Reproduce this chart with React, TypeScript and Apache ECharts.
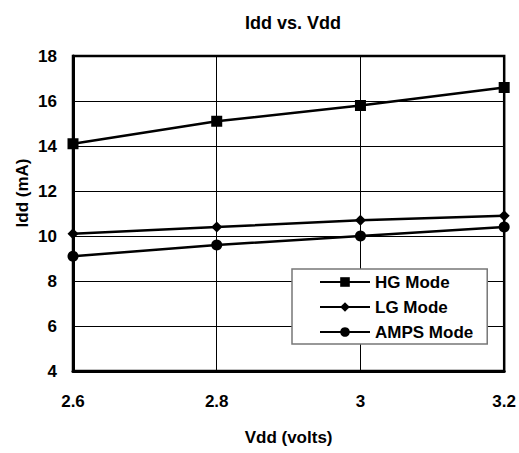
import React, { useEffect, useRef } from "react";
import * as echarts from "echarts";

const vdd = [2.6, 2.8, 3.0, 3.2];
const hgMode = [14.1, 15.1, 15.8, 16.6];
const lgMode = [10.1, 10.4, 10.7, 10.9];
const ampsMode = [9.1, 9.6, 10.0, 10.4];
const seriesNames = ["HG Mode", "LG Mode", "AMPS Mode"];
const yTicks = { min: 4, max: 18, interval: 2 };
const xTicks = { min: 2.6, max: 3.2, interval: 0.2 };

const FONT = "'Liberation Sans Narrow', 'Arial Narrow', 'Liberation Sans', sans-serif";

export default function App() {
  const ref = useRef<HTMLDivElement>(null);
  useEffect(() => {
    if (!ref.current) return;
    const chart = echarts.init(ref.current, undefined, { renderer: "svg" });
    const mk = (name: string, vals: number[], symbol: string, size: number) => ({
      name,
      type: "line",
      data: vals.map((v, i) => [vdd[i], v]),
      symbol,
      symbolSize: size,
      showAllSymbol: true,
      lineStyle: { color: "#000", width: 2.5 },
      itemStyle: { color: "#000" },
      emphasis: { disabled: true },
    });
    chart.setOption({
      animation: false,
      backgroundColor: "#fff",
      textStyle: { fontFamily: FONT, fontWeight: "bold", color: "#000" },
      title: {
        text: "Idd vs. Vdd",
        left: 288,
        top: 9,
        textAlign: "center",
        textStyle: { fontFamily: FONT, fontWeight: "bold", fontSize: 18, color: "#000" },
      },
      graphic: [
        {
          type: "text",
          x: 22,
          y: 193,
          rotation: Math.PI / 2,
          style: {
            text: "Idd (mA)",
            fontFamily: FONT,
            fontWeight: "bold",
            fontSize: 17,
            fill: "#000",
            align: "center",
            verticalAlign: "middle",
          },
        },
      ],
      grid: {
        left: 73,
        right: 13,
        top: 56,
        bottom: 82,
        show: true,
        borderColor: "#000",
        borderWidth: 2.5,
        containLabel: false,
      },
      legend: {
        orient: "vertical",
        left: 292,
        top: 269,
        data: seriesNames,
        backgroundColor: "#fff",
        borderColor: "#777",
        borderWidth: 1.5,
        borderRadius: 0,
        padding: [4, 14, 3, 27],
        itemWidth: 50,
        itemHeight: 12,
        itemGap: 7,
        textStyle: { fontFamily: FONT, fontWeight: "bold", fontSize: 17, color: "#000", lineHeight: 18 },
      },
      xAxis: {
        type: "value",
        min: xTicks.min,
        max: xTicks.max,
        interval: xTicks.interval,
        name: "Vdd (volts)",
        nameLocation: "middle",
        nameGap: 58,
        nameTextStyle: { fontFamily: FONT, fontWeight: "bold", fontSize: 17, color: "#000" },
        axisLine: { show: true, lineStyle: { color: "#000", width: 3 } },
        axisTick: { show: false },
        axisLabel: {
          margin: 22,
          fontFamily: FONT,
          fontWeight: "bold",
          fontSize: 17,
          color: "#000",
          formatter: (v: number) => String(Math.round(v * 10) / 10),
        },
        splitLine: { show: true, lineStyle: { color: "#000", width: 1 } },
      },
      yAxis: {
        type: "value",
        min: yTicks.min,
        max: yTicks.max,
        interval: yTicks.interval,
        axisLine: { show: true, lineStyle: { color: "#000", width: 3 } },
        axisTick: { show: false },
        axisLabel: { margin: 16, fontFamily: FONT, fontWeight: "bold", fontSize: 17, color: "#000" },
        splitLine: { show: true, lineStyle: { color: "#000", width: 1 } },
      },
      series: [
        mk(seriesNames[0], hgMode, "rect", 11),
        mk(seriesNames[1], lgMode, "diamond", 11),
        mk(seriesNames[2], ampsMode, "circle", 11),
      ],
    });
    return () => chart.dispose();
  }, []);
  return (
    <div
      ref={ref}
      style={{ position: "fixed", left: 0, top: 0, width: 519, height: 453, background: "#fff" }}
    />
  );
}
